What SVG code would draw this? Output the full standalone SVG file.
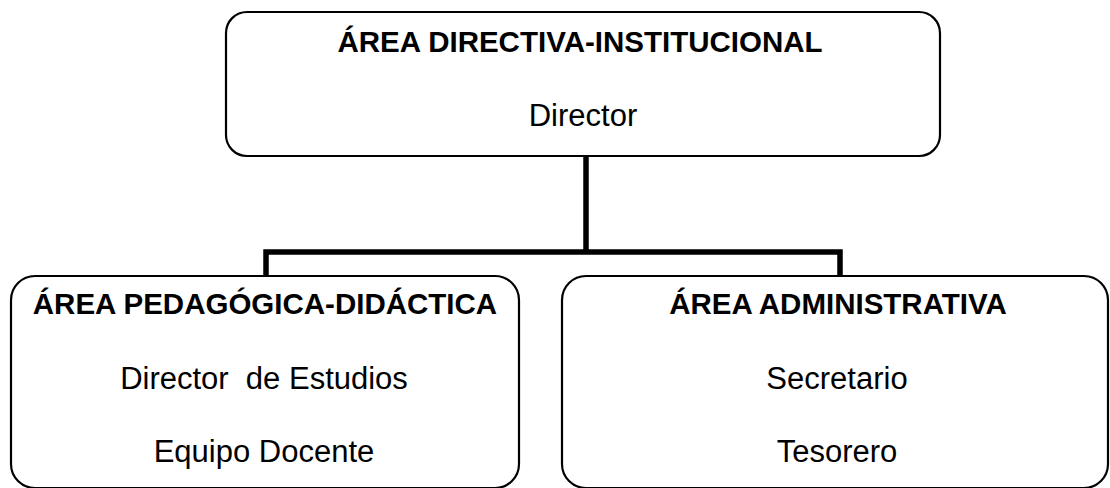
<svg xmlns="http://www.w3.org/2000/svg" width="1110" height="488" viewBox="0 0 1110 488">
<style>
.box{fill:#fff;stroke:#000;stroke-width:2.2}
.t{font-family:"Liberation Sans",Arial,sans-serif;font-weight:bold;font-size:29.5px;text-anchor:middle;fill:#000}
.s{font-family:"Liberation Sans",Arial,sans-serif;font-size:31px;text-anchor:middle;fill:#000;white-space:pre}
.c{fill:none;stroke:#000;stroke-width:5.5;stroke-linecap:butt;stroke-linejoin:miter}
</style>
<rect width="1110" height="488" fill="#fff"/>
<g id="connectors">
<path class="c" d="M586 156 V252"/>
<path class="c" d="M266 276 V252 H840 V276"/>
</g>
<g id="top">
<rect class="box" x="226" y="12" width="714" height="144" rx="21"/>
<text class="t" x="580" y="52">ÁREA DIRECTIVA-INSTITUCIONAL</text>
<text class="s" x="583" y="126">Director</text>
</g>
<g id="left">
<rect class="box" x="11" y="276" width="508" height="212" rx="24"/>
<text class="t" x="265" y="314">ÁREA PEDAGÓGICA-DIDÁCTICA</text>
<text class="s" x="264" y="389" xml:space="preserve">Director  de Estudios</text>
<text class="s" x="264" y="462">Equipo Docente</text>
</g>
<g id="right">
<rect class="box" x="562" y="276" width="546" height="212" rx="24"/>
<text class="t" x="838" y="314">ÁREA ADMINISTRATIVA</text>
<text class="s" x="837" y="389">Secretario</text>
<text class="s" x="837" y="462">Tesorero</text>
</g>
</svg>
